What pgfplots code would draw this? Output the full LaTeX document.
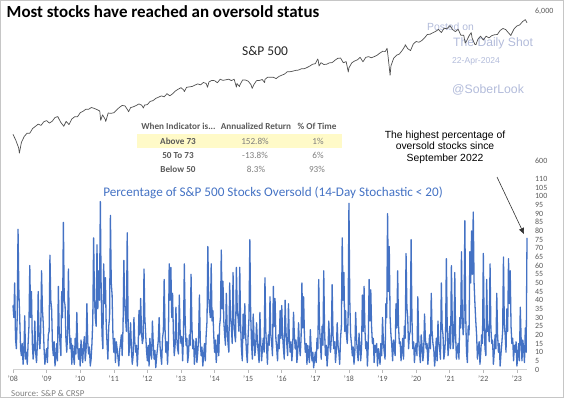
\documentclass[border=0pt]{standalone}
\usepackage{fontspec}
\setmainfont{Carlito}
\newfontfamily\arialf{Liberation Sans}
\usepackage{pgfplots}
\pgfplotsset{compat=1.18}
\usepackage{pgfplotstable}
\usetikzlibrary{arrows.meta}
\definecolor{ind}{RGB}{68,114,196}
\definecolor{wm}{RGB}{178,187,218}
\definecolor{txtg}{RGB}{89,89,89}
\definecolor{txtl}{RGB}{125,125,125}
\definecolor{yel}{RGB}{255,250,200}
\definecolor{spx}{RGB}{80,80,80}

% Percentage of S&P 500 stocks oversold, one value per 0.025 year from the start of 2009
\pgfplotstableread[row sep=\\]{
v\\
37\\ 30\\ 50\\ 18\\ 12\\ 30\\ 81\\ 45\\ 30\\ 12\\ 8\\ 15\\ 3\\ 10\\ 31\\ 6\\ 10\\ 3\\ 15\\ 25\\ 60\\ 30\\ 45\\ 15\\ 6\\ 12\\ 28\\ 10\\ 4\\ 14\\ 45\\ 20\\ 12\\ 22\\ 57\\ 35\\ 27\\ 12\\ 3\\ 8\\
12\\ 4\\ 20\\ 22\\ 66\\ 40\\ 35\\ 14\\ 8\\ 16\\ 2\\ 7\\ 15\\ 5\\ 48\\ 22\\ 15\\ 8\\ 45\\ 30\\ 85\\ 40\\ 37\\ 18\\ 10\\ 20\\ 58\\ 25\\ 12\\ 18\\ 3\\ 14\\ 8\\ 3\\ 18\\ 9\\ 33\\ 14\\ 6\\ 12\\
2\\ 17\\ 10\\ 4\\ 14\\ 19\\ 5\\ 11\\ 38\\ 16\\ 9\\ 13\\ 2\\ 6\\ 15\\ 28\\ 76\\ 42\\ 30\\ 25\\ 72\\ 35\\ 57\\ 40\\ 97\\ 45\\ 20\\ 12\\ 61\\ 38\\ 53\\ 25\\ 15\\ 6\\ 25\\ 30\\ 89\\ 50\\ 43\\ 20\\
10\\ 18\\ 4\\ 16\\ 12\\ 7\\ 2\\ 11\\ 15\\ 20\\ 8\\ 24\\ 63\\ 38\\ 30\\ 22\\ 79\\ 30\\ 8\\ 15\\ 27\\ 12\\ 3\\ 8\\ 30\\ 16\\ 10\\ 14\\ 2\\ 12\\ 34\\ 20\\ 41\\ 22\\ 15\\ 18\\ 58\\ 30\\ 20\\ 11\\
5\\ 14\\ 2\\ 18\\ 10\\ 6\\ 28\\ 15\\ 6\\ 11\\ 1\\ 7\\ 12\\ 17\\ 30\\ 14\\ 8\\ 3\\ 18\\ 22\\ 52\\ 24\\ 10\\ 16\\ 3\\ 15\\ 61\\ 40\\ 59\\ 30\\ 44\\ 20\\ 8\\ 14\\ 36\\ 18\\ 12\\ 9\\ 43\\ 22\\
15\\ 19\\ 5\\ 20\\ 61\\ 28\\ 14\\ 18\\ 4\\ 9\\ 20\\ 14\\ 55\\ 26\\ 12\\ 17\\ 3\\ 10\\ 18\\ 4\\ 10\\ 18\\ 43\\ 16\\ 8\\ 13\\ 2\\ 8\\ 15\\ 5\\ 20\\ 28\\ 71\\ 42\\ 35\\ 30\\ 61\\ 28\\ 34\\ 20\\
10\\ 17\\ 4\\ 12\\ 20\\ 8\\ 25\\ 30\\ 69\\ 35\\ 51\\ 28\\ 20\\ 14\\ 44\\ 24\\ 15\\ 10\\ 50\\ 30\\ 25\\ 15\\ 56\\ 28\\ 20\\ 16\\ 59\\ 34\\ 30\\ 22\\ 59\\ 26\\ 12\\ 5\\ 32\\ 18\\ 38\\ 20\\ 10\\ 4\\
20\\ 30\\ 75\\ 32\\ 15\\ 6\\ 32\\ 18\\ 8\\ 14\\ 27\\ 16\\ 10\\ 4\\ 33\\ 15\\ 5\\ 12\\ 18\\ 10\\ 53\\ 22\\ 12\\ 3\\ 20\\ 14\\ 42\\ 20\\ 15\\ 8\\ 48\\ 25\\ 41\\ 18\\ 12\\ 5\\ 20\\ 12\\ 34\\ 18\\
37\\ 20\\ 12\\ 6\\ 40\\ 22\\ 15\\ 8\\ 38\\ 18\\ 10\\ 16\\ 5\\ 12\\ 33\\ 20\\ 12\\ 17\\ 4\\ 10\\ 27\\ 14\\ 8\\ 18\\ 50\\ 24\\ 42\\ 20\\ 10\\ 15\\ 3\\ 14\\ 8\\ 4\\ 23\\ 12\\ 5\\ 10\\ 1\\ 6\\
10\\ 4\\ 18\\ 12\\ 52\\ 24\\ 15\\ 6\\ 25\\ 14\\ 57\\ 22\\ 8\\ 14\\ 2\\ 9\\ 28\\ 16\\ 10\\ 18\\ 49\\ 20\\ 12\\ 16\\ 4\\ 11\\ 27\\ 14\\ 10\\ 3\\ 18\\ 25\\ 76\\ 40\\ 56\\ 22\\ 34\\ 20\\ 15\\ 30\\
96\\ 40\\ 20\\ 15\\ 8\\ 13\\ 3\\ 10\\ 33\\ 18\\ 10\\ 5\\ 21\\ 14\\ 5\\ 12\\ 43\\ 22\\ 48\\ 24\\ 12\\ 16\\ 2\\ 14\\ 52\\ 28\\ 46\\ 24\\ 15\\ 18\\ 4\\ 14\\ 10\\ 15\\ 2\\ 12\\ 8\\ 3\\ 15\\ 8\\
30\\ 16\\ 10\\ 6\\ 38\\ 30\\ 90\\ 45\\ 71\\ 30\\ 20\\ 14\\ 5\\ 17\\ 12\\ 8\\ 38\\ 24\\ 57\\ 26\\ 15\\ 16\\ 5\\ 11\\ 18\\ 6\\ 25\\ 18\\ 67\\ 36\\ 30\\ 12\\ 20\\ 22\\ 75\\ 30\\ 12\\ 16\\ 4\\ 12\\
15\\ 8\\ 42\\ 18\\ 10\\ 4\\ 20\\ 14\\ 5\\ 10\\ 32\\ 18\\ 12\\ 15\\ 3\\ 11\\ 20\\ 12\\ 44\\ 22\\ 15\\ 12\\ 2\\ 8\\ 18\\ 5\\ 28\\ 16\\ 12\\ 6\\ 50\\ 24\\ 20\\ 6\\ 10\\ 18\\ 64\\ 25\\ 8\\ 15\\
25\\ 12\\ 60\\ 28\\ 12\\ 18\\ 56\\ 20\\ 6\\ 12\\ 15\\ 6\\ 30\\ 24\\ 68\\ 30\\ 20\\ 28\\ 86\\ 32\\ 10\\ 4\\ 25\\ 20\\ 68\\ 50\\ 80\\ 55\\ 91\\ 50\\ 38\\ 28\\ 20\\ 6\\ 12\\ 16\\ 3\\ 10\\ 20\\ 15\\
67\\ 26\\ 12\\ 8\\ 52\\ 22\\ 25\\ 16\\ 61\\ 24\\ 15\\ 17\\ 3\\ 10\\ 20\\ 12\\ 44\\ 20\\ 10\\ 15\\ 2\\ 9\\ 15\\ 22\\ 65\\ 26\\ 20\\ 10\\ 35\\ 22\\ 64\\ 38\\ 57\\ 25\\ 15\\ 18\\ 5\\ 14\\ 10\\ 16\\
2\\ 8\\ 15\\ 5\\ 36\\ 18\\ 5\\ 17\\ 12\\ 4\\ 24\\ 10\\ 76\\
}\indtab

\begin{document}
\begin{tikzpicture}
\path[use as bounding box] (0,0) rectangle (564bp,-398bp);
\begin{scope}[x=1bp,y=1bp]
\draw[gray!45, line width=1.5bp] (0.75,-0.75) rectangle (563.25,-397.25);
\node[anchor=base west, font=\fontsize{17}{20}\selectfont\bfseries, text=black, inner sep=0pt] at (6.5,-17.5) {Most stocks have reached an oversold status};
\node[font=\fontsize{13.5}{16}\selectfont, text=black!85] at (265,-51) {S\&P 500};
% watermark
\node[anchor=west, inner sep=0pt, font=\arialf\fontsize{10.4}{12}\selectfont, text=wm] at (427,-27) {Posted on};
\node[anchor=west, inner sep=0pt, font=\arialf\fontsize{12.2}{14}\selectfont, text=wm] at (453,-43) {The Daily Shot};
\node[anchor=west, inner sep=0pt, font=\arialf\fontsize{8.6}{10}\selectfont, text=wm] at (452,-61) {22-Apr-2024};
\node[anchor=west, inner sep=0pt, font=\arialf\fontsize{12.3}{14}\selectfont, text=wm] at (452,-90) {@SoberLook};
% table
\fill[yel] (137,-134) rectangle (342,-148);
\begin{scope}[every node/.style={inner sep=0pt, font=\fontsize{9.2}{11}\selectfont}]
\node[text=txtg, font=\fontsize{9.2}{11}\selectfont\bfseries] at (178.5,-126.5) {When Indicator is...};
\node[text=txtg, font=\fontsize{9.2}{11}\selectfont\bfseries] at (256,-126.5) {Annualized Return};
\node[text=txtg, font=\fontsize{9.2}{11}\selectfont\bfseries] at (317,-126.5) {\% Of Time};
\node[text=txtg, font=\fontsize{9.2}{11}\selectfont\bfseries] at (178,-141) {Above 73};
\node[text=txtg, font=\fontsize{9.2}{11}\selectfont\bfseries] at (178,-155.3) {50 To 73};
\node[text=txtg, font=\fontsize{9.2}{11}\selectfont\bfseries] at (178,-169.3) {Below 50};
\node[text=txtl] at (255,-141) {152.8\%};
\node[text=txtl] at (255,-155.3) {-13.8\%};
\node[text=txtl] at (256,-169.3) {8.3\%};
\node[text=txtl] at (318,-141) {1\%};
\node[text=txtl] at (318,-155.3) {6\%};
\node[text=txtl] at (317,-169.3) {93\%};
\end{scope}
% annotation
\node[align=center, inner sep=0pt, font=\arialf\fontsize{10.4}{11.7}\selectfont, text=black] at (445,-147) {The highest percentage of\\oversold stocks since\\September 2022};
\draw[black!80, line width=0.6bp, -{Triangle[length=6bp,width=5bp]}] (497,-177) -- (524,-234);
% chart title
\node[font=\fontsize{13.2}{15}\selectfont, text=ind] at (273,-193) {Percentage of S\&P 500 Stocks Oversold (14-Day Stochastic < 20)};
\node[anchor=west, inner sep=0pt, font=\fontsize{9}{11}\selectfont, text=gray] at (11,-393) {Source: S\&P \& CRSP};
\end{scope}

% S&P 500, log scale
\begin{axis}[
  at={(13bp,-161bp)}, anchor=south west, scale only axis,
  width=514bp, height=150bp,
  xmin=2009, xmax=2024.3, ymode=log, ymin=600, ymax=6000,
  axis x line=none, axis y line*=right,
  y axis line style={draw=none},
  xtick=\empty,
  ytick={600,6000}, yticklabels={600,{6,000}},
  ytick style={draw=none}, major tick length=0pt,
  yticklabel style={font=\fontsize{8}{10}\selectfont, text=txtg, anchor=west, inner sep=0pt, xshift=8bp},
  clip=false,
]
\addplot[spx, line width=0.7bp, line join=round] coordinates {
(2009.00,903) (2009.083,826) (2009.167,735) (2009.19,677) (2009.25,798) (2009.333,873) (2009.417,919) (2009.5,919) (2009.583,987) (2009.667,1021) (2009.75,1057) (2009.833,1036) (2009.917,1096) (2010.0,1115)
(2010.083,1074) (2010.167,1104) (2010.25,1169) (2010.333,1187) (2010.417,1089) (2010.5,1031) (2010.51,1022) (2010.583,1102) (2010.667,1049) (2010.75,1141) (2010.833,1183) (2010.917,1181) (2011.0,1258)
(2011.083,1286) (2011.167,1327) (2011.25,1326) (2011.333,1364) (2011.417,1345) (2011.5,1321) (2011.583,1292) (2011.61,1119) (2011.667,1219) (2011.75,1131) (2011.76,1099) (2011.833,1253) (2011.917,1247) (2012.0,1258)
(2012.083,1312) (2012.167,1366) (2012.25,1408) (2012.333,1398) (2012.417,1310) (2012.44,1278) (2012.5,1362) (2012.583,1379) (2012.667,1407) (2012.75,1441) (2012.833,1412) (2012.88,1353) (2012.917,1416) (2013.0,1426)
(2013.083,1498) (2013.167,1515) (2013.25,1569) (2013.333,1598) (2013.417,1631) (2013.5,1606) (2013.583,1686) (2013.667,1633) (2013.75,1682) (2013.833,1757) (2013.917,1806) (2014.0,1848)
(2014.083,1783) (2014.1,1741) (2014.167,1859) (2014.25,1872) (2014.333,1884) (2014.417,1924) (2014.5,1960) (2014.583,1931) (2014.667,2003) (2014.75,1972) (2014.79,1862) (2014.833,2018) (2014.917,2068) (2015.0,2059)
(2015.083,1995) (2015.167,2105) (2015.25,2068) (2015.333,2086) (2015.417,2107) (2015.5,2063) (2015.583,2104) (2015.65,1867) (2015.667,1972) (2015.74,1882) (2015.75,1920) (2015.833,2079) (2015.917,2080) (2016.0,2044)
(2016.083,1940) (2016.12,1829) (2016.167,1932) (2016.25,2060) (2016.333,2065) (2016.417,2097) (2016.49,2000) (2016.5,2099) (2016.583,2174) (2016.667,2171) (2016.75,2168) (2016.833,2126) (2016.917,2199) (2017.0,2239)
(2017.083,2279) (2017.167,2364) (2017.25,2363) (2017.333,2384) (2017.417,2412) (2017.5,2423) (2017.583,2470) (2017.667,2472) (2017.75,2519) (2017.833,2575) (2017.917,2648) (2018.0,2674)
(2018.07,2873) (2018.083,2824) (2018.11,2581) (2018.167,2714) (2018.25,2641) (2018.333,2648) (2018.417,2705) (2018.5,2718) (2018.583,2816) (2018.667,2902) (2018.75,2914) (2018.833,2711) (2018.917,2760) (2018.98,2351) (2019.0,2507)
(2019.083,2704) (2019.167,2784) (2019.25,2834) (2019.333,2946) (2019.417,2752) (2019.5,2942) (2019.583,2980) (2019.667,2926) (2019.75,2977) (2019.833,3038) (2019.917,3141) (2020.0,3231)
(2020.083,3226) (2020.135,3386) (2020.167,2954) (2020.225,2237) (2020.25,2585) (2020.333,2912) (2020.417,3044) (2020.5,3100) (2020.583,3271) (2020.667,3500) (2020.675,3580) (2020.75,3363) (2020.833,3270) (2020.917,3622) (2021.0,3756)
(2021.083,3714) (2021.167,3811) (2021.25,3973) (2021.333,4181) (2021.417,4204) (2021.5,4298) (2021.583,4395) (2021.667,4523) (2021.75,4308) (2021.833,4605) (2021.917,4567) (2022.0,4766)
(2022.01,4796) (2022.083,4516) (2022.167,4374) (2022.25,4530) (2022.333,4132) (2022.417,4132) (2022.46,3667) (2022.5,3785) (2022.583,4130) (2022.64,4305) (2022.667,3955) (2022.75,3586) (2022.78,3577) (2022.833,3872) (2022.917,4080) (2023.0,3840)
(2023.083,4077) (2023.167,3970) (2023.25,4109) (2023.333,4169) (2023.417,4180) (2023.5,4450) (2023.583,4589) (2023.667,4508) (2023.75,4288) (2023.82,4117) (2023.833,4194) (2023.917,4568) (2024.0,4770)
(2024.083,4846) (2024.167,5096) (2024.25,5254) (2024.30,5010)
};
\end{axis}

% Oversold indicator
\begin{axis}[
  at={(13bp,-369.5bp)}, anchor=south west, scale only axis,
  width=514bp, height=190.5bp,
  xmin=2009, xmax=2024.3, ymin=0, ymax=110,
  axis x line*=bottom, axis y line*=right,
  x axis line style={draw=gray!35, line width=0.7bp},
  y axis line style={draw=none},
  xtick={2009,...,2024},
  xticklabels={'08,'09,'10,'11,'12,'13,'14,'15,'16,'17,'18,'19,'20,'21,'22,'23},
  major tick length=3bp,
  xtick style={draw=gray!55, line width=0.5bp},
  tick align=outside,
  xticklabel style={font=\fontsize{8}{10}\selectfont, text=txtg},
  ytick={0,5,...,110},
  ytick style={draw=none},
  yticklabel style={font=\fontsize{8}{10}\selectfont, text=txtg, anchor=west, inner sep=0pt, xshift=5bp},
  /pgf/number format/assume math mode=true,
  clip=false,
]
\addplot[ind, line width=1.3bp, line join=round] table[x expr=2009+\coordindex/40, y=v] {\indtab};
\end{axis}
\end{tikzpicture}
\end{document}
